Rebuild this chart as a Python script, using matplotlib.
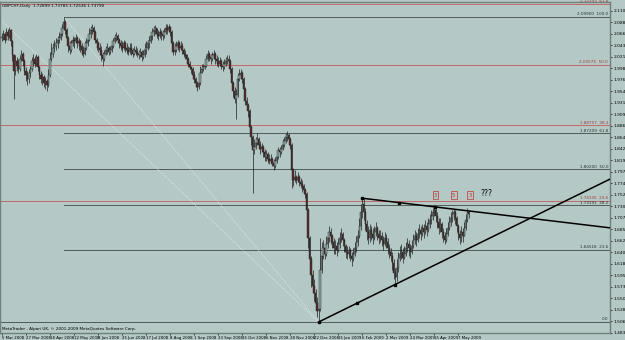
import numpy as np
import pandas as pd
import matplotlib
matplotlib.use("Agg")
import matplotlib.pyplot as plt

# daily GBPCHF bars (close, high, low); open = previous close
closes = [
    2.058, 2.066, 2.054, 2.070, 2.062, 2.074, 2.051, 2.024, 1.993, 2.012,
    2.004, 1.997, 2.016, 2.027, 2.012, 1.993, 1.985, 1.977, 1.989, 1.997,
    2.012, 2.016, 2.008, 2.020, 2.001, 1.985, 1.977, 1.981, 1.970, 1.974,
    1.966, 1.985, 2.016, 2.027, 2.039, 2.043, 2.047, 2.054, 2.058, 2.066,
    2.078, 2.089, 2.074, 2.058, 2.043, 2.035, 2.047, 2.054, 2.051, 2.058,
    2.047, 2.051, 2.043, 2.035, 2.027, 2.039, 2.047, 2.054, 2.066, 2.074,
    2.078, 2.070, 2.054, 2.047, 2.039, 2.035, 2.024, 2.016, 2.027, 2.035,
    2.039, 2.031, 2.035, 2.043, 2.051, 2.058, 2.062, 2.054, 2.047, 2.043,
    2.039, 2.047, 2.039, 2.035, 2.031, 2.039, 2.035, 2.027, 2.035, 2.031,
    2.027, 2.024, 2.031, 2.020, 2.024, 2.035, 2.039, 2.047, 2.051, 2.062,
    2.070, 2.074, 2.078, 2.066, 2.062, 2.070, 2.066, 2.062, 2.070, 2.078,
    2.074, 2.080, 2.070, 2.047, 2.031, 2.035, 2.043, 2.047, 2.039, 2.043,
    2.035, 2.027, 2.024, 2.016, 2.008, 2.001, 1.997, 1.985, 1.977, 1.970,
    1.962, 1.970, 1.989, 1.997, 2.001, 2.004, 2.016, 2.027, 2.020, 2.016,
    2.024, 2.027, 2.016, 2.012, 2.008, 2.012, 2.004, 2.001, 2.008, 2.012,
    2.016, 2.012, 1.997, 1.970, 1.954, 1.939, 1.947, 1.977, 1.985, 1.989,
    1.977, 1.958, 1.935, 1.927, 1.916, 1.885, 1.866, 1.839, 1.846, 1.854,
    1.862, 1.850, 1.842, 1.846, 1.835, 1.827, 1.831, 1.823, 1.819, 1.823,
    1.815, 1.808, 1.819, 1.827, 1.839, 1.835, 1.842, 1.850, 1.858, 1.866,
    1.869, 1.862, 1.850, 1.800, 1.781, 1.788, 1.781, 1.788, 1.777, 1.773,
    1.769, 1.761, 1.754, 1.723, 1.669, 1.627, 1.596, 1.576, 1.561, 1.542,
    1.526, 1.530, 1.607, 1.634, 1.650, 1.638, 1.657, 1.669, 1.680, 1.673,
    1.661, 1.650, 1.653, 1.646, 1.657, 1.669, 1.677, 1.665, 1.653, 1.642,
    1.638, 1.646, 1.634, 1.627, 1.638, 1.650, 1.661, 1.673, 1.692, 1.719,
    1.734, 1.719, 1.696, 1.680, 1.669, 1.684, 1.677, 1.669, 1.680, 1.688,
    1.677, 1.669, 1.673, 1.665, 1.657, 1.669, 1.661, 1.650, 1.642, 1.634,
    1.619, 1.600, 1.592, 1.611, 1.630, 1.638, 1.642, 1.630, 1.638, 1.650,
    1.657, 1.650, 1.642, 1.653, 1.665, 1.673, 1.665, 1.677, 1.684, 1.677,
    1.688, 1.680, 1.692, 1.684, 1.696, 1.704, 1.711, 1.719, 1.723, 1.711,
    1.700, 1.688, 1.696, 1.680, 1.673, 1.665, 1.677, 1.688, 1.700, 1.707,
    1.715, 1.719, 1.707, 1.692, 1.677, 1.669, 1.680, 1.673, 1.688, 1.704,
    1.719, 1.715,
]
highs = [
    2.068, 2.074, 2.070, 2.078, 2.076, 2.080, 2.076, 2.054, 2.027, 2.024,
    2.020, 2.016, 2.024, 2.035, 2.031, 2.016, 2.001, 1.993, 1.997, 2.004,
    2.020, 2.026, 2.022, 2.027, 2.024, 2.004, 1.993, 1.989, 1.985, 1.981,
    1.977, 1.997, 2.031, 2.047, 2.047, 2.054, 2.058, 2.062, 2.070, 2.078,
    2.085, 2.099, 2.093, 2.078, 2.062, 2.051, 2.054, 2.062, 2.060, 2.066,
    2.062, 2.058, 2.054, 2.047, 2.043, 2.051, 2.058, 2.066, 2.078, 2.081,
    2.085, 2.081, 2.074, 2.058, 2.051, 2.047, 2.043, 2.031, 2.035, 2.043,
    2.047, 2.043, 2.043, 2.051, 2.058, 2.066, 2.070, 2.066, 2.058, 2.054,
    2.051, 2.054, 2.051, 2.047, 2.043, 2.047, 2.047, 2.039, 2.043, 2.043,
    2.039, 2.035, 2.039, 2.035, 2.035, 2.047, 2.051, 2.054, 2.062, 2.070,
    2.078, 2.081, 2.083, 2.078, 2.074, 2.078, 2.074, 2.074, 2.078, 2.085,
    2.085, 2.085, 2.081, 2.074, 2.051, 2.047, 2.051, 2.054, 2.051, 2.051,
    2.047, 2.039, 2.035, 2.027, 2.020, 2.012, 2.004, 2.001, 1.993, 1.981,
    1.974, 1.977, 2.004, 2.008, 2.008, 2.012, 2.024, 2.035, 2.031, 2.027,
    2.031, 2.035, 2.031, 2.024, 2.020, 2.020, 2.016, 2.012, 2.016, 2.020,
    2.024, 2.024, 2.016, 2.001, 1.974, 1.962, 1.958, 1.989, 1.997, 1.997,
    1.993, 1.981, 1.962, 1.943, 1.931, 1.920, 1.889, 1.869, 1.862, 1.866,
    1.873, 1.866, 1.858, 1.854, 1.850, 1.842, 1.839, 1.835, 1.831, 1.831,
    1.827, 1.823, 1.827, 1.839, 1.846, 1.846, 1.850, 1.862, 1.866, 1.873,
    1.877, 1.873, 1.866, 1.854, 1.804, 1.800, 1.792, 1.796, 1.792, 1.785,
    1.781, 1.773, 1.765, 1.758, 1.727, 1.673, 1.634, 1.607, 1.588, 1.569,
    1.553, 1.546, 1.669, 1.661, 1.665, 1.657, 1.673, 1.680, 1.692, 1.688,
    1.677, 1.669, 1.665, 1.661, 1.669, 1.680, 1.688, 1.680, 1.669, 1.657,
    1.653, 1.653, 1.650, 1.642, 1.650, 1.661, 1.673, 1.684, 1.707, 1.734,
    1.746, 1.746, 1.727, 1.704, 1.692, 1.696, 1.692, 1.688, 1.692, 1.700,
    1.692, 1.684, 1.684, 1.680, 1.673, 1.680, 1.677, 1.669, 1.657, 1.650,
    1.642, 1.627, 1.611, 1.627, 1.642, 1.653, 1.657, 1.650, 1.653, 1.661,
    1.669, 1.665, 1.657, 1.665, 1.677, 1.684, 1.680, 1.688, 1.696, 1.692,
    1.696, 1.696, 1.704, 1.700, 1.707, 1.715, 1.723, 1.727, 1.733, 1.731,
    1.719, 1.707, 1.707, 1.700, 1.688, 1.680, 1.688, 1.700, 1.711, 1.719,
    1.723, 1.725, 1.723, 1.711, 1.696, 1.684, 1.692, 1.688, 1.700, 1.715,
    1.727, 1.723,
]
lows = [
    2.051, 2.054, 2.047, 2.053, 2.054, 2.058, 2.043, 2.012, 1.939, 1.985,
    1.993, 1.989, 1.993, 2.012, 2.004, 1.985, 1.974, 1.966, 1.970, 1.981,
    1.993, 2.004, 2.001, 2.004, 1.993, 1.977, 1.970, 1.966, 1.962, 1.958,
    1.954, 1.962, 1.981, 2.012, 2.020, 2.031, 2.035, 2.039, 2.047, 2.054,
    2.062, 2.074, 2.066, 2.047, 2.031, 2.027, 2.031, 2.043, 2.039, 2.047,
    2.039, 2.035, 2.031, 2.024, 2.020, 2.024, 2.035, 2.043, 2.051, 2.058,
    2.066, 2.058, 2.047, 2.035, 2.031, 2.024, 2.012, 2.004, 2.012, 2.024,
    2.027, 2.024, 2.027, 2.031, 2.039, 2.047, 2.051, 2.047, 2.039, 2.035,
    2.031, 2.035, 2.031, 2.027, 2.024, 2.027, 2.024, 2.020, 2.024, 2.024,
    2.020, 2.016, 2.020, 2.012, 2.016, 2.020, 2.027, 2.035, 2.039, 2.047,
    2.054, 2.062, 2.066, 2.058, 2.054, 2.058, 2.054, 2.054, 2.058, 2.066,
    2.066, 2.070, 2.062, 2.039, 2.024, 2.024, 2.031, 2.035, 2.031, 2.035,
    2.027, 2.020, 2.016, 2.008, 2.001, 1.997, 1.989, 1.977, 1.970, 1.962,
    1.954, 1.958, 1.966, 1.989, 1.993, 1.997, 2.001, 2.012, 2.012, 2.008,
    2.012, 2.016, 2.008, 2.004, 2.001, 2.004, 1.997, 1.993, 1.997, 2.004,
    2.008, 2.004, 1.989, 1.962, 1.943, 1.931, 1.900, 1.943, 1.974, 1.977,
    1.970, 1.947, 1.927, 1.920, 1.904, 1.877, 1.850, 1.756, 1.831, 1.842,
    1.850, 1.842, 1.831, 1.835, 1.827, 1.819, 1.819, 1.815, 1.812, 1.812,
    1.808, 1.800, 1.804, 1.815, 1.823, 1.827, 1.831, 1.839, 1.846, 1.854,
    1.858, 1.850, 1.842, 1.765, 1.769, 1.777, 1.773, 1.777, 1.769, 1.765,
    1.758, 1.754, 1.746, 1.711, 1.650, 1.615, 1.573, 1.561, 1.546, 1.530,
    1.515, 1.505, 1.526, 1.600, 1.627, 1.627, 1.634, 1.650, 1.661, 1.657,
    1.650, 1.638, 1.638, 1.634, 1.642, 1.650, 1.661, 1.653, 1.642, 1.630,
    1.627, 1.630, 1.623, 1.615, 1.623, 1.634, 1.642, 1.653, 1.669, 1.684,
    1.707, 1.704, 1.684, 1.665, 1.657, 1.661, 1.665, 1.657, 1.665, 1.673,
    1.665, 1.657, 1.661, 1.653, 1.646, 1.653, 1.650, 1.638, 1.630, 1.623,
    1.607, 1.588, 1.578, 1.584, 1.603, 1.623, 1.627, 1.619, 1.627, 1.634,
    1.642, 1.634, 1.630, 1.638, 1.650, 1.657, 1.653, 1.661, 1.669, 1.665,
    1.673, 1.669, 1.677, 1.673, 1.680, 1.688, 1.696, 1.704, 1.711, 1.700,
    1.688, 1.677, 1.680, 1.669, 1.661, 1.657, 1.661, 1.673, 1.684, 1.692,
    1.700, 1.704, 1.696, 1.680, 1.665, 1.657, 1.661, 1.661, 1.673, 1.684,
    1.700, 1.707,
]

date_labels = ["5 Mar 2008", "27 Mar 2008", "18 Apr 2008", "12 May 2008", "3 Jun 2008",
               "25 Jun 2008", "17 Jul 2008", "8 Aug 2008", "1 Sep 2008", "23 Sep 2008",
               "15 Oct 2008", "6 Nov 2008", "28 Nov 2008", "22 Dec 2008", "15 Jan 2009",
               "6 Feb 2009", "2 Mar 2009", "24 Mar 2009", "15 Apr 2009", "7 May 2009"]

# fibonacci retracements: (bar, price) of their anchors
fib_dark = ((41, 2.099), (211, 1.505))     # Aug 2008 high -> Dec 2008 low
fib_red = ((-150, 2.5065), (211, 1.505))   # 2007 high -> Dec 2008 low
dark_levels = [0.0, 23.6, 38.2, 50.0, 61.8, 100.0]
red_levels = [23.6, 38.2, 50.0, 61.8]

# triangle trendlines (bar, price)
upper_tl = ((240, 1.746), (288.7, 1.729))
lower_tl = ((211, 1.505), (262, 1.578))

wave_labels = ["3", "5", "3"]
wave_bars = [289, 301, 312]
wave_price = 1.747

price_ticks = [2.1109 - 0.0224 * k for k in range(29)]
last_price = 1.7215

BG = "#b4c9c5"
RED = "#c46a6a"
DARK = "#4e5b59"

n = len(closes)
opens = [closes[0]] + closes[:-1]
x = np.arange(n)

fig = plt.figure(figsize=(6.25, 3.4), dpi=100)
fig.patch.set_facecolor(BG)
ax = fig.add_axes([0, 1 - 333 / 340, 610 / 625, 331 / 340])
ax.set_facecolor(BG)
xmax = 405.3
ax.set_xlim(-1.33, xmax)
ax.set_ylim(1.4896, 2.1277)

# fib levels
(dx0, dp0), (dx1, dp1) = fib_dark
for lv in dark_levels:
    p = dp1 + (dp0 - dp1) * lv / 100
    start = -1.33 if lv == 0 else dx0
    ax.plot([start, xmax], [p, p], color=DARK, lw=0.7, zorder=1)
    ax.text(xmax - 1.3, p + 0.0012, f"{p:.5f}  {lv:.1f}" if lv else "0.0",
            fontsize=3.0, color="#2a3332", ha="right", va="bottom")
(rx0, rp0), (rx1, rp1) = fib_red
for lv in red_levels:
    p = rp1 + (rp0 - rp1) * lv / 100
    ax.plot([-1.33, xmax], [p, p], color=RED, lw=0.7, zorder=1)
    ax.text(xmax - 1.3, p + 0.0012, f"{p:.5f}  {lv:.1f}", fontsize=3.0,
            color="#a03c3c", ha="right", va="bottom")

# fib diagonals (dotted)
ax.plot([dx0, dx1], [dp0, dp1], color="#e8eeee", lw=0.6, ls=(0, (1, 1.5)), zorder=1)
ax.plot([rx0, rx1], [rp0, rp1], color="#e8eeee", lw=0.6, ls=(0, (1, 1.5)), zorder=1)

# candles
up = np.array(closes) >= np.array(opens)
ax.vlines(x, lows, highs, color="#1e1e1e", lw=0.5, zorder=2)
body_lo = np.minimum(opens, closes)
body_h = np.maximum(np.abs(np.array(closes) - np.array(opens)), 0.0008)
ax.bar(x[up], body_h[up], bottom=body_lo[up], width=0.7, color="#8fa7a2",
       edgecolor="#1e1e1e", linewidth=0.3, zorder=3)
ax.bar(x[~up], body_h[~up], bottom=body_lo[~up], width=0.7, color="#5a2c2c",
       edgecolor="#1e1e1e", linewidth=0.3, zorder=3)


def ray(a, b):
    (x0, p0), (x1, p1) = a, b
    s = (p1 - p0) / (x1 - x0)
    ax.plot([x0, xmax], [p0, p0 + s * (xmax - x0)], color="black", lw=1.1, zorder=4)
    xs = [x0, (x0 + x1) / 2, x1]
    ax.plot(xs, [p0 + s * (v - x0) for v in xs], "s", color="black", ms=1.6, zorder=5)


ray(*upper_tl)
ray(*lower_tl)

# wave labels
for lab, b in zip(wave_labels, wave_bars):
    ax.text(b, wave_price, lab, fontsize=3.8, color="#c03030", ha="center", va="bottom",
            bbox=dict(boxstyle="square,pad=0.25", fc="none", ec="#c03030", lw=0.5))
ax.text(323, wave_price, "???", fontsize=5.5, color="black", ha="center", va="bottom")

# axes cosmetics
ax.yaxis.tick_right()
ax.set_yticks(price_ticks)
ax.set_yticklabels([f"{p:.5f}" for p in price_ticks], fontsize=3.2)
ax.tick_params(axis="y", length=1.5, width=0.5, pad=1)
ax.set_xticks(np.arange(len(date_labels)) * 16)
ax.set_xticklabels(date_labels, fontsize=2.8, ha="left")
ax.tick_params(axis="x", length=1.5, width=0.5, pad=0.6)
for sp in ax.spines.values():
    sp.set_color("#6e7f7c")
    sp.set_linewidth(1.0)

ax.text(2, last_price, f"{last_price:.5f}", transform=ax.get_yaxis_transform(),
        fontsize=3.2, color="white", va="center", ha="left",
        bbox=dict(boxstyle="square,pad=0.15", fc="black", ec="none"))
ax.text(0.003, 0.995, "GBPCHF,Daily  1.72899 1.73785 1.72536 1.73790",
        transform=ax.transAxes, fontsize=3.0, color="black", va="top", ha="left")
ax.text(0.003, 0.005, "MetaTrader - Alpari UK, \u00a9 2001-2009 MetaQuotes Software Corp.",
        transform=ax.transAxes, fontsize=3.0, color="black", va="bottom", ha="left")

fig.savefig("out.png", dpi=100, facecolor=BG)
